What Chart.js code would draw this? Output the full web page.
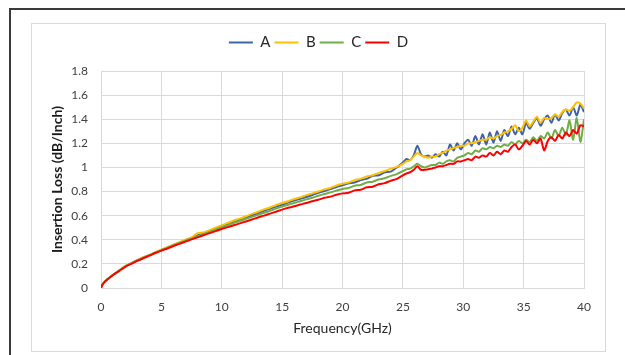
<!DOCTYPE html>
<html>
<head>
<meta charset="utf-8">
<script src="https://cdn.jsdelivr.net/npm/chart.js@4.4.0/dist/chart.umd.min.js"></script>
<style>
    html, body { margin:0; padding:0; background:#fff; }
    body { width:625px; height:355px; position:relative; overflow:hidden; }
    #cadre {
        position:absolute; left:9px; top:8px; width:640px; height:360px;
        border-left:2px solid #3a3a3a; border-top:2px solid #3a3a3a;
    }
    #zone {
        position:absolute; left:31px; top:23px; width:575px; height:329px;
        border:1px solid #d9d9d9; box-sizing:border-box; background:#fff;
    }
    #graficoPerda { display:block; }
</style>
</head>
<body>
<div id="cadre"></div>
<div id="zone"><canvas id="graficoPerda" width="573" height="327"></canvas></div>
<script>
// frequencia (GHz)
const frequencias = [0,0.1,0.25,0.5,1,1.5,2,2.5,3,3.5,4,4.5,5,5.5,6,6.5,7,7.5,8,8.5,9,9.5,10,10.5,11,11.5,12,12.5,13,13.5,14,14.5,15,15.5,16,16.5,17,17.5,18,18.5,19,19.5,20,20.5,21,21.5,22,22.5,23,23.5,24,24.5,
    25,25.3,25.6,25.9,26.2,26.5,26.8,27.1,27.4,27.7,28,28.3,28.6,28.9,29.2,29.5,29.8,30.1,30.4,30.7,31,31.3,31.6,31.9,32.2,32.5,32.8,33.1,33.4,33.7,34,34.3,34.6,34.9,35.2,35.5,35.8,36.1,36.4,36.7,37,37.3,37.6,37.9,38.2,38.5,38.8,39.1,39.4,39.7,40];

// perda de insercao (dB/Inch)
const serieA = [0,0.025,0.045,0.07,0.11,0.145,0.18,0.205,0.23,0.253,0.273,0.295,0.316,0.336,0.357,0.377,0.397,0.416,0.436,0.455,0.474,0.493,0.512,0.53,0.55,0.566,0.585,0.603,0.62,0.64,0.657,0.675,0.69,0.708,0.725,0.74,0.755,0.772,0.79,0.805,0.82,0.838,0.852,0.868,0.875,0.895,0.905,0.93,0.935,0.96,0.965,1.0,
    1.04,1.07,1.06,1.10,1.18,1.11,1.09,1.10,1.08,1.11,1.09,1.13,1.10,1.19,1.14,1.20,1.15,1.20,1.23,1.18,1.26,1.19,1.275,1.19,1.29,1.205,1.30,1.22,1.31,1.26,1.34,1.275,1.33,1.275,1.37,1.32,1.37,1.41,1.345,1.40,1.43,1.37,1.44,1.39,1.45,1.48,1.43,1.50,1.43,1.52,1.46];
const serieB = [0,0.025,0.045,0.07,0.11,0.145,0.18,0.205,0.23,0.255,0.275,0.297,0.318,0.338,0.36,0.38,0.40,0.42,0.455,0.46,0.48,0.50,0.52,0.54,0.56,0.575,0.595,0.615,0.632,0.652,0.668,0.688,0.705,0.72,0.738,0.752,0.77,0.785,0.80,0.818,0.83,0.85,0.865,0.875,0.895,0.905,0.925,0.935,0.955,0.97,0.99,1.005,
    1.03,1.05,1.06,1.09,1.12,1.10,1.09,1.08,1.09,1.09,1.11,1.12,1.14,1.15,1.16,1.17,1.18,1.18,1.20,1.20,1.21,1.22,1.23,1.23,1.25,1.24,1.26,1.27,1.29,1.30,1.32,1.35,1.30,1.33,1.39,1.34,1.38,1.42,1.37,1.41,1.40,1.41,1.44,1.42,1.46,1.48,1.47,1.50,1.54,1.53,1.49];
const serieC = [0,0.025,0.045,0.07,0.11,0.145,0.178,0.203,0.228,0.25,0.272,0.293,0.314,0.333,0.354,0.373,0.392,0.41,0.43,0.448,0.466,0.485,0.503,0.52,0.54,0.556,0.573,0.59,0.607,0.624,0.64,0.658,0.675,0.69,0.705,0.72,0.735,0.748,0.765,0.78,0.793,0.808,0.822,0.83,0.848,0.855,0.875,0.882,0.90,0.91,0.93,0.945,
    0.97,0.985,0.99,1.01,1.03,1.01,1.00,1.01,1.02,1.02,1.04,1.03,1.05,1.06,1.05,1.08,1.09,1.10,1.12,1.11,1.14,1.13,1.16,1.15,1.17,1.16,1.18,1.17,1.19,1.18,1.21,1.19,1.22,1.20,1.23,1.21,1.25,1.22,1.26,1.24,1.29,1.24,1.31,1.26,1.33,1.27,1.39,1.23,1.41,1.21,1.40];
const serieD = [0,0.025,0.045,0.068,0.108,0.14,0.175,0.2,0.225,0.247,0.268,0.29,0.31,0.328,0.348,0.366,0.385,0.403,0.42,0.438,0.455,0.472,0.49,0.505,0.52,0.536,0.552,0.568,0.585,0.60,0.617,0.633,0.65,0.665,0.678,0.692,0.705,0.72,0.732,0.748,0.758,0.773,0.785,0.79,0.81,0.815,0.835,0.84,0.86,0.87,0.89,0.905,
    0.935,0.95,0.96,0.98,1.01,0.98,0.98,0.985,0.99,1.0,1.01,1.01,1.02,1.03,1.03,1.05,1.05,1.06,1.07,1.06,1.09,1.08,1.10,1.09,1.12,1.10,1.13,1.11,1.14,1.13,1.17,1.19,1.15,1.18,1.22,1.19,1.23,1.20,1.24,1.14,1.22,1.25,1.22,1.27,1.24,1.29,1.26,1.31,1.28,1.35,1.34];

const nomesSeries = ['A','B','C','D'];
const coresSeries = ['#3f63a8','#ffc000','#70ad47','#ff0000'];

const fonte = "Lato, 'Open Sans', sans-serif";
const corTexto = '#404040';

function montarPontos(valores){
    return frequencias.map((f, i) => ({ x: f, y: valores[i] }));
}

// o ultimo fica por cima, como no original
const datasets = [serieA, serieB, serieC, serieD].map((valores, i) => ({
    label: nomesSeries[i],
    data: montarPontos(valores),
    borderColor: coresSeries[i],
    backgroundColor: coresSeries[i],
    borderWidth: 2,
    pointRadius: 0,
    tension: 0.25,
    order: 3 - i
}));

// legenda mais baixa e centrada na largura toda
const legendaAjuste = {
    id: 'legendaAjuste',
    beforeInit(chart){
        const fitOriginal = chart.legend.fit;
        chart.legend.fit = function(){
            fitOriginal.bind(chart.legend)();
            this.height += 11;
        };
    },
    afterLayout(chart){
        const legenda = chart.legend;
        legenda.left = 0;
        legenda.right = chart.width;
        legenda.width = chart.width;
    }
};

new Chart(document.getElementById('graficoPerda'), {
    type: 'line',
    data: { datasets: datasets },
    plugins: [legendaAjuste],
    options: {
        responsive: false,
        animation: false,
        layout: { padding: { top: 7, right: 21, left: 0, bottom: 0 } },
        plugins: {
            tooltip: { enabled: false },
            legend: {
                position: 'top',
                labels: {
                    usePointStyle: true,
                    pointStyle: 'line',
                    pointStyleWidth: 24,
                    padding: 4,
                    color: '#262626',
                    font: { family: fonte, size: 15 },
                    sort: (a, b) => a.datasetIndex - b.datasetIndex
                }
            }
        },
        scales: {
            x: {
                type: 'linear',
                min: 0,
                max: 40,
                afterFit(scale){ scale.height = 63; },
                ticks: {
                    stepSize: 5,
                    padding: 12,
                    color: corTexto,
                    font: { family: fonte, size: 12 }
                },
                grid: { color: '#d9d9d9', drawTicks: false },
                border: { color: '#d9d9d9' },
                title: {
                    display: true,
                    text: 'Frequency(GHz)',
                    color: '#262626',
                    font: { family: fonte, size: 14 },
                    padding: { top: 0, bottom: 14 }
                }
            },
            y: {
                min: 0,
                max: 1.8,
                afterFit(scale){ scale.width = 69; },
                ticks: {
                    stepSize: 0.2,
                    padding: 13,
                    color: corTexto,
                    font: { family: fonte, size: 12 },
                    callback: v => String(Math.round(v * 10) / 10)
                },
                grid: { color: '#d9d9d9', drawTicks: false },
                border: { color: '#d9d9d9' },
                title: {
                    display: true,
                    text: 'Insertion Loss (dB/Inch)',
                    color: '#1a1a1a',
                    font: { family: fonte, size: 14, weight: 'bold' },
                    padding: { top: 17, bottom: 0 }
                }
            }
        }
    }
});
</script>
</body>
</html>
